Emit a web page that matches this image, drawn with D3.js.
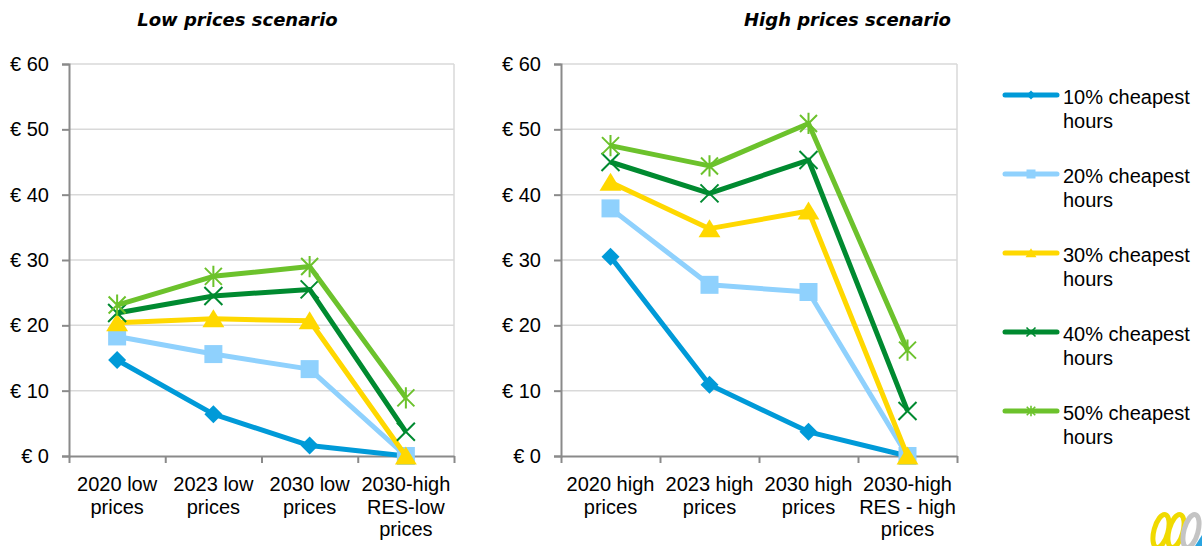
<!DOCTYPE html>
<html>
<head>
<meta charset="utf-8">
<script src="https://cdn.jsdelivr.net/npm/d3@7"></script>
<style>
  html, body { margin: 0; padding: 0; background: #fff; }
  svg { display: block; font-family: "Liberation Sans", "DejaVu Sans", sans-serif; }
</style>
</head>
<body>
<svg id="chart" width="1202" height="546"></svg>
<script>
// ---- data ----
const seriesNames = ["10% cheapest hours", "20% cheapest hours", "30% cheapest hours", "40% cheapest hours", "50% cheapest hours"];
const seriesColors = ["#009ad8", "#8fd1fd", "#ffd800", "#008a30", "#6cc22c"];
const seriesMarkers = ["diamond", "square", "triangle", "cross", "star"];

const lowCategories = [["2020 low", "prices"], ["2023 low", "prices"], ["2030 low", "prices"], ["2030-high", "RES-low", "prices"]];
const highCategories = [["2020 high", "prices"], ["2023 high", "prices"], ["2030 high", "prices"], ["2030-high", "RES - high", "prices"]];

const low10 = [14.7, 6.4, 1.6, 0];
const low20 = [18.3, 15.6, 13.3, 0];
const low30 = [20.4, 21.0, 20.7, 0];
const low40 = [21.9, 24.5, 25.5, 3.7];
const low50 = [23.1, 27.5, 29.0, 8.9];

const high10 = [30.5, 10.9, 3.7, 0];
const high20 = [37.9, 26.2, 25.1, 0];
const high30 = [41.9, 34.8, 37.5, 0];
const high40 = [45.0, 40.2, 45.3, 6.9];
const high50 = [47.5, 44.4, 50.9, 16.2];

const yTicks = [0, 10, 20, 30, 40, 50, 60];
const panelTitles = ["Low prices scenario", "High prices scenario"];

// ---- layout ----
const svg = d3.select("#chart");
const plotTop = 64, plotBottom = 456;
const labelFont = 20;
const panels = [
  { title: panelTitles[0], cats: lowCategories, values: [low10, low20, low30, low40, low50], x0: 69, x1: 454, titleX: 237.5 },
  { title: panelTitles[1], cats: highCategories, values: [high10, high20, high30, high40, high50], x0: 561, x1: 957, titleX: 847.5 }
];

const y = d3.scaleLinear().domain([0, 60]).range([plotBottom, plotTop]);

function markerPath(type, r) {
  switch (type) {
    case "diamond": return `M0,${-r}L${r},0L0,${r}L${-r},0Z`;
    case "square": return `M${-r},${-r}H${r}V${r}H${-r}Z`;
    case "triangle": return `M0,${-r * 1.0}L${r * 1.15},${r * 0.9}L${-r * 1.15},${r * 0.9}Z`;
    case "cross": return `M${-r},${-r}L${r},${r}M${-r},${r}L${r},${-r}`;
    case "star": return `M${-r},${-r}L${r},${r}M${-r},${r}L${r},${-r}M0,${-r * 1.25}V${r * 1.25}`;
  }
}
const markerSize = { diamond: 9, square: 9, triangle: 9.5, cross: 9, star: 8.5 };
const isOpen = t => t === "cross" || t === "star";

function drawMarker(g, type, color, cx, cy, scale) {
  const r = markerSize[type] * scale;
  const p = g.append("path")
    .attr("transform", `translate(${cx},${cy})`)
    .attr("d", markerPath(type, r));
  if (isOpen(type)) {
    p.attr("fill", "none").attr("stroke", color).attr("stroke-width", 2 * Math.max(scale, 0.8));
  } else {
    p.attr("fill", color).attr("stroke", "none");
  }
}

panels.forEach(pn => {
  const g = svg.append("g");
  const x = d3.scaleBand().domain(d3.range(pn.cats.length)).range([pn.x0, pn.x1]).padding(0);

  // gridlines
  g.append("g").selectAll("line").data(yTicks.filter(d => d > 0)).join("line")
    .attr("x1", pn.x0).attr("x2", pn.x1)
    .attr("y1", d => y(d)).attr("y2", d => y(d))
    .attr("stroke", "#d9d9d9").attr("stroke-width", 1.5);
  // right plot border
  g.append("line").attr("x1", pn.x1).attr("x2", pn.x1).attr("y1", plotTop).attr("y2", plotBottom)
    .attr("stroke", "#d9d9d9").attr("stroke-width", 1.5);

  // y axis
  const yAxis = g.append("g").attr("transform", `translate(${pn.x0},0)`)
    .call(d3.axisLeft(y).tickValues(yTicks).tickSize(7).tickPadding(13).tickFormat(d => "€ " + d));
  yAxis.select(".domain").attr("stroke", "#8a8a8a").attr("stroke-width", 2);
  yAxis.selectAll(".tick line").attr("stroke", "#8a8a8a").attr("stroke-width", 2);
  yAxis.selectAll(".tick text").attr("font-size", labelFont).attr("fill", "#000")
    .attr("font-family", "Liberation Sans, DejaVu Sans, sans-serif");

  // x axis
  const xTickScale = d3.scaleLinear().domain([0, pn.cats.length]).range([pn.x0, pn.x1]);
  const xAxis = g.append("g").attr("transform", `translate(0,${plotBottom})`)
    .call(d3.axisBottom(xTickScale).tickValues(d3.range(pn.cats.length + 1)).tickSize(7).tickSizeOuter(0).tickFormat(""));
  xAxis.select(".domain").attr("stroke", "#8a8a8a").attr("stroke-width", 2);
  xAxis.selectAll(".tick line").attr("stroke", "#8a8a8a").attr("stroke-width", 2);

  // category labels
  pn.cats.forEach((lines, i) => {
    const t = g.append("text")
      .attr("x", x(i) + x.bandwidth() / 2)
      .attr("y", 491)
      .attr("text-anchor", "middle")
      .attr("font-size", labelFont).attr("fill", "#000");
    lines.forEach((ln, j) => {
      t.append("tspan").attr("x", x(i) + x.bandwidth() / 2).attr("y", 491 + j * 22.5).text(ln);
    });
  });

  // title
  g.append("text").attr("x", pn.titleX).attr("y", 26).attr("text-anchor", "middle")
    .attr("font-family", "DejaVu Sans, sans-serif")
    .attr("font-size", 18).attr("font-weight", "bold").attr("font-style", "italic")
    .attr("fill", "#000").text(pn.title);

  // series
  const line = d3.line().x((d, i) => x(i) + x.bandwidth() / 2).y(d => y(d));
  pn.values.forEach((vals, s) => {
    const sg = g.append("g");
    sg.append("path").datum(vals).attr("d", line)
      .attr("fill", "none").attr("stroke", seriesColors[s]).attr("stroke-width", 5)
      .attr("stroke-linejoin", "round");
    vals.forEach((v, i) => drawMarker(sg, seriesMarkers[s], seriesColors[s], x(i) + x.bandwidth() / 2, y(v), 1));
  });
});

// legend
const legend = svg.append("g");
seriesNames.forEach((name, s) => {
  const ly = 95 + s * 79;
  const lg = legend.append("g");
  lg.append("line").attr("x1", 1005).attr("x2", 1057).attr("y1", ly).attr("y2", ly)
    .attr("stroke", seriesColors[s]).attr("stroke-width", 5).attr("stroke-linecap", "round");
  drawMarker(lg, seriesMarkers[s], seriesColors[s], 1031, ly, 0.5);
  const words = name.split(" ");
  const t = lg.append("text").attr("font-size", labelFont).attr("fill", "#000");
  t.append("tspan").attr("x", 1063).attr("y", ly + 9).text(words.slice(0, 2).join(" "));
  t.append("tspan").attr("x", 1063).attr("y", ly + 33).text(words.slice(2).join(" "));
});

// corner logo
const logo = svg.append("g");
[[1161, "#f0da00"], [1176, "#f0da00"], [1191, "#c4c4c4"]].forEach(([cx, col]) => {
  logo.append("ellipse").attr("transform", `translate(${cx},531) rotate(15)`)
    .attr("rx", 7).attr("ry", 17).attr("fill", "none").attr("stroke", col).attr("stroke-width", 5);
});
logo.append("path").attr("d", "M1195,546L1202,535V546Z").attr("fill", "#2aa4e0");
</script>
</body>
</html>
